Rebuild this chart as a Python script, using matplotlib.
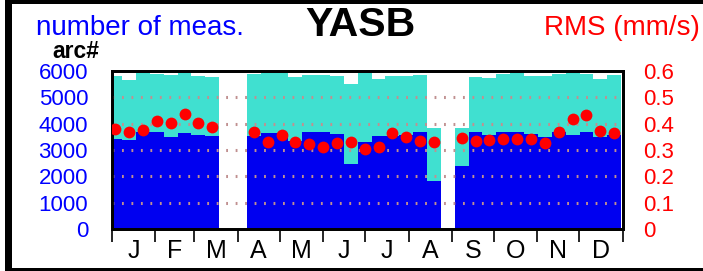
import numpy as np
import matplotlib
matplotlib.use("Agg")
import matplotlib.pyplot as plt
from matplotlib.patches import Rectangle

plt.rcParams['font.family'] = ['Liberation Sans', 'DejaVu Sans']

# 10-day bins over the year (37 bins), 0 = no data
total_meas = [5810, 5660, 5910, 5890, 5860, 5910, 5810, 5760, 0, 0,
              5890, 5910, 5910, 5760, 5850, 5860, 5810, 5490, 5940, 5700,
              5810, 5810, 5860, 3820, 0, 3820, 5790, 5720, 5890, 5910,
              5810, 5810, 5890, 5910, 5890, 5700, 5850]
used_meas = [3420, 3380, 3700, 3670, 3480, 3660, 3570, 3530, 0, 0,
             3540, 3660, 3630, 3350, 3670, 3700, 3610, 2460, 3320, 3530,
             3530, 3570, 3670, 1840, 0, 2390, 3670, 3570, 3670, 3670,
             3610, 3510, 3670, 3570, 3670, 3510, 3570]
rms = [0.380, 0.370, 0.376, 0.410, 0.401, 0.437, 0.404, 0.389, np.nan, np.nan,
       0.370, 0.332, 0.357, 0.330, 0.322, 0.311, 0.325, 0.329, 0.303, 0.313,
       0.363, 0.348, 0.335, 0.332, np.nan, 0.344, 0.335, 0.338, 0.342, 0.342,
       0.340, 0.328, 0.370, 0.416, 0.433, 0.372, 0.366]
month_labels = ['J', 'F', 'M', 'A', 'M', 'J', 'J', 'A', 'S', 'O', 'N', 'D']
month_days = [31, 28, 31, 30, 31, 30, 31, 31, 30, 31, 30, 31]

bin_w = 9.9
x = 2.5 + bin_w * np.arange(len(total_meas))
month_edges = np.concatenate([[0], np.cumsum(month_days)])
month_mid = (month_edges[:-1] + month_edges[1:]) / 2

fig = plt.figure(figsize=(7.03, 2.71), dpi=100)
W, H = 703, 271
ax = fig.add_axes([111.7 / W, 42 / H, 511 / W, 158 / H])

ax.bar(x, total_meas, width=bin_w, color='#40E0D0', linewidth=0, zorder=1)
ax.bar(x, used_meas, width=bin_w, color='#0000F0', linewidth=0, zorder=2)
for v in [1000, 2000, 3000, 4000, 5000]:
    ax.axhline(v, color='#c09090', lw=2.2, ls=(0, (0.6, 2.5)), zorder=3)
ax.set_xlim(0, 365)
ax.set_ylim(0, 6000)
ax.set_yticks(range(0, 7000, 1000))
ax.tick_params(axis='y', length=0, pad=17, labelsize=16, labelcolor='blue')
ax.set_xticks(month_edges)
ax.set_xticklabels([])
ax.set_xticks(month_mid, minor=True)
ax.set_xticklabels(month_labels, minor=True, fontsize=18)
ax.tick_params(axis='x', which='major', direction='out', length=9.5, width=1.2)
ax.tick_params(axis='x', which='minor', length=0, pad=7)
for s in ax.spines.values():
    s.set_linewidth(2)

ax2 = ax.twinx()
ax2.plot(x, rms, 'o', color='red', ms=8.5, mec='none', zorder=5)
ax2.set_ylim(0, 0.6)
ax2.set_yticks([0, 0.1, 0.2, 0.3, 0.4, 0.5, 0.6])
ax2.set_yticklabels(['0', '0.1', '0.2', '0.3', '0.4', '0.5', '0.6'])
ax2.tick_params(axis='y', length=0, pad=15, labelsize=16, labelcolor='red')
for s in ax2.spines.values():
    s.set_linewidth(2)

fig.text(36 / W, 1 - 35 / H, 'number of meas.', color='blue', fontsize=20, va='baseline')
fig.text(360 / W, 1 - 36 / H, 'YASB', color='black', fontsize=29.5, fontweight='bold',
         ha='center', va='baseline')
fig.text(700 / W, 1 - 35 / H, 'RMS (mm/s)', color='red', fontsize=20, ha='right', va='baseline')
fig.text(76 / W, 1 - 58 / H, 'arc#', color='black', fontsize=16.5, fontweight='bold',
         ha='center', va='baseline')

# black frame around the picture
fig.add_artist(Rectangle((5 / W, 0), 7 / W, 1, transform=fig.transFigure, color='black', lw=0))
fig.add_artist(Rectangle((5 / W, 1 - 4 / H), 1, 4 / H, transform=fig.transFigure, color='black', lw=0))
fig.add_artist(Rectangle((5 / W, 0), 1, 3.5 / H, transform=fig.transFigure, color='black', lw=0))

fig.savefig('out.png', dpi=100)
